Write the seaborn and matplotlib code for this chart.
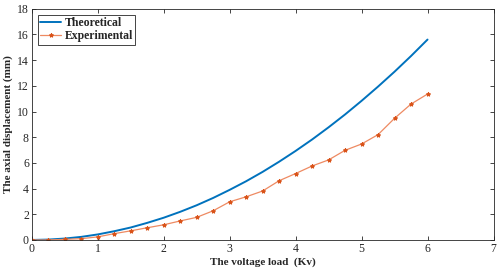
import numpy as np
import pandas as pd
import matplotlib
matplotlib.use("Agg")
import matplotlib.pyplot as plt
import seaborn as sns

# voltage load (Kv), step 0.25
voltage = [0, 0.25, 0.5, 0.75, 1.0, 1.25, 1.5, 1.75, 2.0, 2.25, 2.5, 2.75, 3.0,
           3.25, 3.5, 3.75, 4.0, 4.25, 4.5, 4.75, 5.0, 5.25, 5.5, 5.75, 6.0]

# axial displacement (mm)
theoretical = [0.00, 0.03, 0.11, 0.24, 0.43, 0.68, 0.97, 1.33, 1.73, 2.19, 2.70, 3.27, 3.90,
               4.57, 5.30, 6.09, 6.93, 7.82, 8.77, 9.77, 10.83, 11.94, 13.10, 14.32, 15.60]
experimental = [0.00, 0.00, 0.05, 0.10, 0.24, 0.49, 0.71, 0.95, 1.18, 1.48, 1.76, 2.27, 2.97,
                3.36, 3.81, 4.61, 5.17, 5.76, 6.23, 6.98, 7.47, 8.20, 9.47, 10.58, 11.36]

df = pd.DataFrame({"voltage": voltage, "theoretical": theoretical, "experimental": experimental})

sns.set_style("ticks")
plt.rcParams['font.family'] = ['Liberation Serif', 'DejaVu Serif']

fig = plt.figure(figsize=(5.0, 2.73), dpi=100)
ax = fig.add_axes([0.0634, 0.121, 0.9236, 0.847])

sns.lineplot(data=df, x="voltage", y="theoretical", ax=ax, color="#0072BD",
             linewidth=1.4, label="Theoretical")
sns.lineplot(data=df, x="voltage", y="experimental", ax=ax, color="#EE8A62",
             linewidth=0.9, marker="*", markersize=3, markerfacecolor="#D95319",
             markeredgecolor="#D95319", label="Experimental")

ax.set_xlim(0, 7)
ax.set_ylim(0, 18)
ax.set_xticks(range(0, 8))
ax.set_yticks(range(0, 19, 2))
ax.tick_params(direction="in", length=3, width=0.6, labelsize=8.5, colors="#262626",
               top=True, right=True, pad=2)
for sp in ax.spines.values():
    sp.set_color("#262626")
    sp.set_linewidth(0.6)

ax.set_xlabel("The voltage load  (Kv)", fontsize=8, fontweight="bold", labelpad=2)
ax.set_ylabel("The axial displacement (mm)", fontsize=8, fontweight="bold", labelpad=3)

leg = ax.legend(loc="upper left", prop={"weight": "bold", "size": 8.5},
                frameon=True, fancybox=False, edgecolor="#262626", framealpha=1,
                handlelength=1.8, handletextpad=0.3, borderpad=0.2, labelspacing=0.1,
                borderaxespad=0.5)
leg.get_frame().set_linewidth(0.6)

fig.savefig("out.png", dpi=100)
